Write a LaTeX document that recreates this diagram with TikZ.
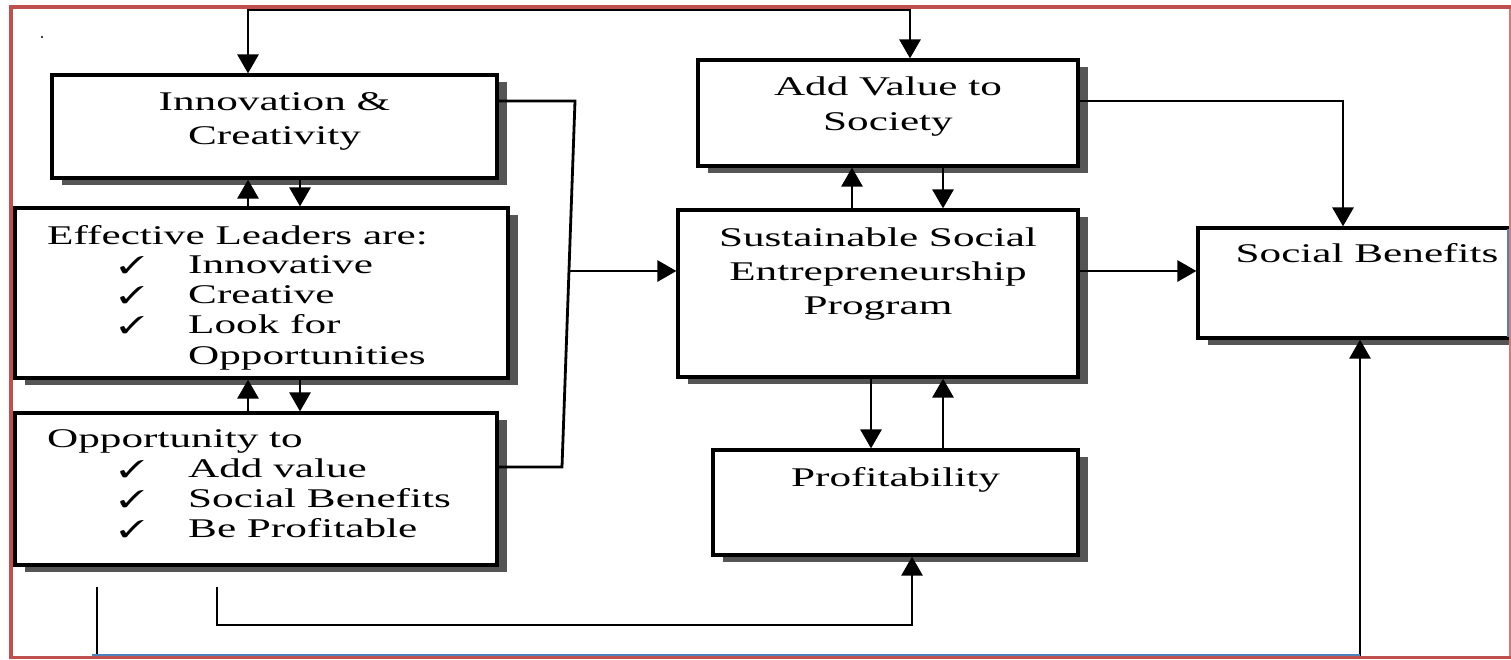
\documentclass[tikz,border=0pt]{standalone}
\usepackage{fontspec}
\setmainfont[FakeStretch=1.6]{Liberation Serif}
\usepackage{graphicx}
\usepackage{pifont}
\usetikzlibrary{arrows.meta,shadows}
\definecolor{frred}{HTML}{C0504D}
\definecolor{frblue}{HTML}{4F81BD}
\definecolor{shad}{HTML}{555555}
\newcommand{\chkmark}{\scalebox{1.55}[1.1]{\fontsize{22}{24}\selectfont\ding{51}}}
\tikzset{
  box/.style={draw, line width=3.2pt, fill=white, inner sep=0pt,
    drop shadow={shadow xshift=10pt, shadow yshift=-7pt, fill=shad, opacity=1}},
  conn/.style={line width=2.8pt},
  arr/.style={line width=2.8pt, -{Triangle[length=19pt,width=21pt]}},
  arrb/.style={line width=2.8pt, {Triangle[length=19pt,width=21pt]}-{Triangle[length=19pt,width=21pt]}},
  txt/.style={inner sep=0pt, font=\fontsize{27}{30}\selectfont},
}
\begin{document}
\begin{tikzpicture}[x=1pt,y=-1pt]
\useasboundingbox (0,0) rectangle (1511,659);
\fill[white] (0,0) rectangle (1511,659);

% boxes
\node[box, minimum width=445pt, minimum height=103pt] (inn) at (274.5,126.5) {};
\node[box, minimum width=493pt, minimum height=170pt] (eff) at (261.5,293) {};
\node[box, minimum width=482pt, minimum height=152pt] (opp) at (256,489) {};
\node[box, minimum width=380pt, minimum height=106pt] (add) at (888,113) {};
\node[box, minimum width=400pt, minimum height=167pt] (sse) at (878,293.5) {};
\node[box, minimum width=365pt, minimum height=105pt] (pro) at (895.5,502.5) {};
\node[box, minimum width=340pt, minimum height=110pt] (soc) at (1368,283) {};

% texts
\node[txt, anchor=base] (t1) at (274.5,110) {Innovation \&};
\node[txt, anchor=base] (t2) at (274.5,144) {Creativity};

\node[txt, anchor=base west] (e0) at (47,244) {Effective Leaders are:};
\node[txt, anchor=base west] (ec1) at (119,273) {\chkmark};
\node[txt, anchor=base west] (e1) at (188,273) {Innovative};
\node[txt, anchor=base west] (ec2) at (119,303) {\chkmark};
\node[txt, anchor=base west] (e2) at (188,303) {Creative};
\node[txt, anchor=base west] (ec3) at (119,333) {\chkmark};
\node[txt, anchor=base west] (e3) at (188,333) {Look for};
\node[txt, anchor=base west] (e4) at (188,364) {Opportunities};

\node[txt, anchor=base west] (o0) at (47,447) {Opportunity to};
\node[txt, anchor=base west] (oc1) at (119,477) {\chkmark};
\node[txt, anchor=base west] (o1) at (188,477) {Add value};
\node[txt, anchor=base west] (oc2) at (119,507) {\chkmark};
\node[txt, anchor=base west] (o2) at (188,507) {Social Benefits};
\node[txt, anchor=base west] (oc3) at (119,537) {\chkmark};
\node[txt, anchor=base west] (o3) at (188,537) {Be Profitable};

\node[txt, anchor=base] (a1) at (888,95) {Add Value to};
\node[txt, anchor=base] (a2) at (888,130) {Society};

\node[txt, anchor=base] (s1) at (878,246) {Sustainable Social};
\node[txt, anchor=base] (s2) at (878,280) {Entrepreneurship};
\node[txt, anchor=base] (s3) at (878,314) {Program};

\node[txt, anchor=base] (p1) at (895.5,486) {Profitability};
\node[txt, anchor=base] (b1) at (1367,262) {Social Benefits};

% small dot
\fill (42,37) circle (1.2pt);

% connectors
\coordinate (topL) at (248,10);
\coordinate (topR) at (910,10);
\draw[arrb] (inn.north -| 248,0) -- (topL) -- (topR) -- (add.north -| 910,0);

\draw[arr] (eff.north -| 248,0) -- (inn.south -| 248,0);
\draw[arr] (inn.south -| 300,0) -- (eff.north -| 300,0);
\draw[arr] (opp.north -| 248,0) -- (eff.south -| 248,0);
\draw[arr] (eff.south -| 300,0) -- (opp.north -| 300,0);

\coordinate (brT) at (575,101);
\coordinate (brB) at (562,467);
\coordinate (brM) at (570,271);
\draw[conn] (inn.east |- brT) -- (brT) -- (brB) -- (opp.east |- brB);
\draw[arr] (brM) -- (sse.west |- brM);

\draw[arr] (sse.north -| 852,0) -- (add.south -| 852,0);
\draw[arr] (add.south -| 943,0) -- (sse.north -| 943,0);
\draw[arr] (sse.south -| 871,0) -- (pro.north -| 871,0);
\draw[arr] (pro.north -| 943,0) -- (sse.south -| 943,0);

\coordinate (avR) at (1343,101);
\draw[arr] (add.east |- avR) -- (avR) -- (soc.north -| avR);
\coordinate (ssR) at (1100,271);
\draw[arr] (sse.east |- ssR) -- (soc.west |- ssR);

\coordinate (pb0) at (217,587);
\coordinate (pb1) at (217,625);
\coordinate (pb2) at (912,625);
\draw[arr] (pb0) -- (pb1) -- (pb2) -- (pro.south -| pb2);

\coordinate (sb0) at (97,587);
\coordinate (sb1) at (97,656);
\coordinate (sb2) at (1360,659);
\draw[conn] (sb0) -- (sb1);
\draw[arr] (sb2) -- (soc.south -| sb2);

% frame
\draw[frblue, line width=3pt] (92,655) -- (1360,655);
\draw[frblue, line width=3pt] (1508.5,229) -- (1508.5,337);
\draw[frred!75, line width=1.5pt] (1510,7) -- (1510,659);
\draw[frred, line width=3pt] (11,657.5) -- (1511,657.5);
\draw[frred, line width=4.5pt] (11,659) -- (11,7) -- (1511,7);
\end{tikzpicture}
\end{document}
